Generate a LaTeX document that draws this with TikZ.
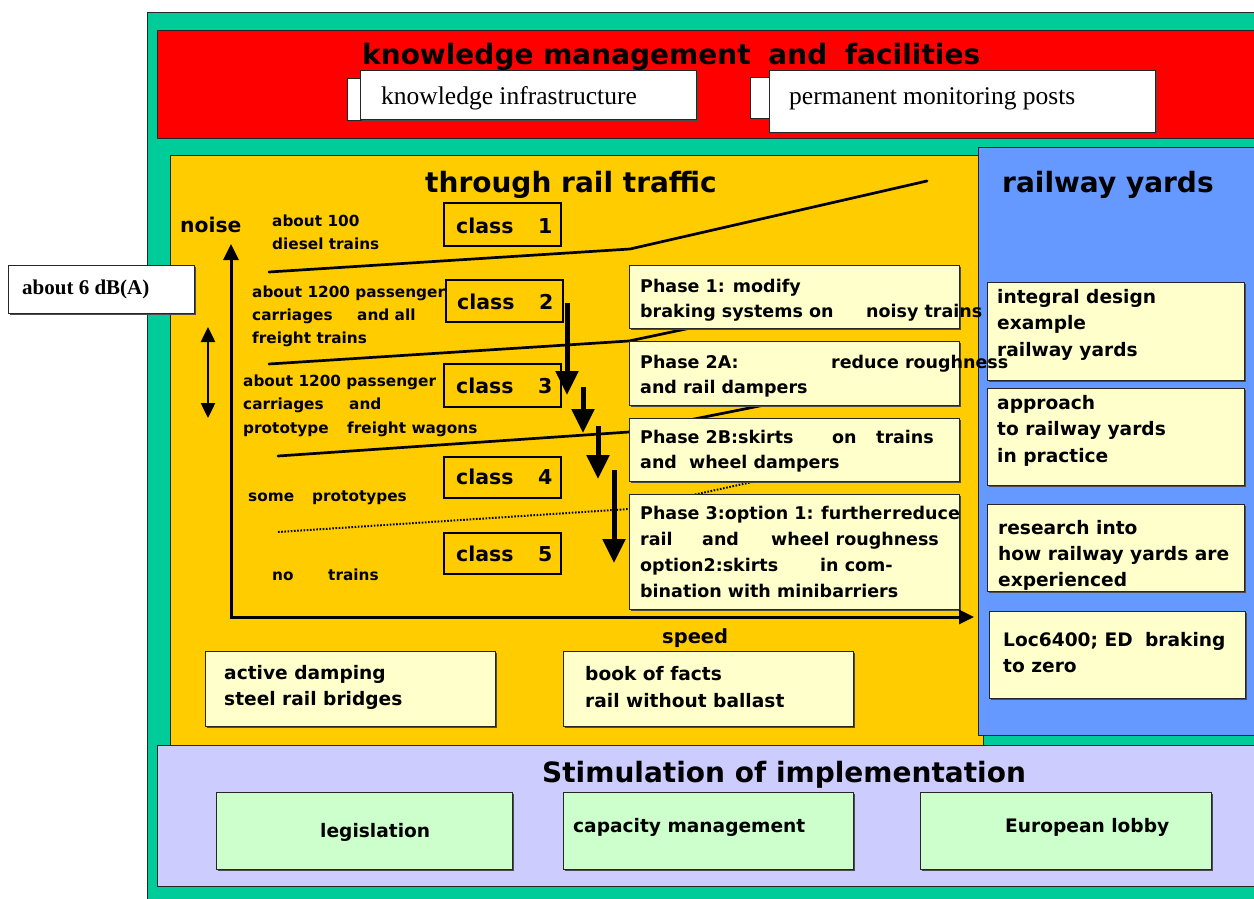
\documentclass[tikz,border=0pt]{standalone}
\usepackage{fontspec}
\setmainfont{DejaVu Sans}
\newfontfamily\serifface{Liberation Serif}
\usetikzlibrary{arrows.meta,fit,shadows}

\definecolor{cTeal}{HTML}{00CC99}
\definecolor{cRed}{HTML}{FF0000}
\definecolor{cYellow}{HTML}{FFCC00}
\definecolor{cBlue}{HTML}{6699FF}
\definecolor{cLav}{HTML}{CCCCFF}
\definecolor{cCream}{HTML}{FFFFCC}
\definecolor{cMint}{HTML}{CCFFCC}

% rows of left-aligned text: style, name, x, first baseline, line step, rows
\newcommand\textrows[6]{%
  \foreach \row [count=\k] in {#6}{%
    \node[#1, anchor=base west] (#2-\k) at (#3,{#4+(\k-1)*#5}) {\row};}}

\tikzset{
  region/.style={draw=black!85, line width=1pt, inner sep=0pt},
  card/.style={draw=black!85, line width=1pt, inner sep=0pt,
    drop shadow={shadow xshift=1.8pt, shadow yshift=-1.8pt, fill=black!70, opacity=1}},
  wcard/.style={card, fill=white},
  ycard/.style={card, fill=cCream},
  gcard/.style={card, fill=cMint},
  classbox/.style={draw=black, line width=1.8pt, inner sep=0pt},
  head/.style={inner sep=0pt, font=\fontsize{28}{32}\selectfont\bfseries},
  sertext/.style={inner sep=0pt, font=\fontsize{25.5}{28}\selectfont\serifface},
  small/.style={inner sep=0pt, font=\fontsize{15.3}{18}\selectfont\bfseries},
  phasetext/.style={inner sep=0pt, font=\fontsize{17.5}{20}\selectfont\bfseries},
  cardtext/.style={inner sep=0pt, font=\fontsize{18.6}{22}\selectfont\bfseries},
  classtext/.style={inner sep=0pt, font=\fontsize{20.5}{24}\selectfont\bfseries},
  limit/.style={line width=2.7pt, line cap=round},
  axis/.style={line width=3pt, {Triangle[width=15pt,length=16pt]}-{Triangle[width=14pt,length=15pt]}},
  span/.style={line width=2.5pt, {Triangle[width=14pt,length=15pt]}-{Triangle[width=14pt,length=15pt]}},
  phasearrow/.style={line width=5pt, -{Triangle[width=22pt,length=24pt]}},
}

\begin{document}
\begin{tikzpicture}[x=1pt,y=-1pt]
\useasboundingbox (0,0) rectangle (1254,899);
\clip (0,0) rectangle (1254,899);

% coloured regions
\node[region, fill=cTeal, fit={(147,13) (1262,905)}] (frame) {};
\node[region, fill=cRed, fit={(157,31) (1262,138)}] (kmf) {};
\node[region, fill=cYellow, fit={(170,155) (983,745)}] (through) {};
\node[region, fill=cBlue, fit={(978,147) (1262,735)}] (yards) {};
\node[region, fill=cLav, fit={(157,745) (1262,886)}] (stim) {};

% headings
\node[head, anchor=base west] (kmf-title) at (362,65) {knowledge management\hspace{8pt} and\hspace{8pt} facilities};
\node[head, anchor=base west] (through-title) at (425,192) {through rail traffic};
\node[head, anchor=base west] (yards-title) at (1002,192) {railway yards};
\node[head, anchor=base west] (stim-title) at (542,782) {Stimulation of implementation};

% knowledge boxes
\node[wcard, fit={(347,79) (671,120)}] (ki-back) {};
\node[wcard, fit={(360,71) (696,119)}] (ki) {};
\node[wcard, fit={(750,78) (1100,118)}] (pm-back) {};
\node[wcard, fit={(769,71) (1155,132)}] (pm) {};
\node[sertext, anchor=base west] (ki-text) at (381,105) {knowledge infrastructure};
\node[sertext, anchor=base west] (pm-text) at (789,105) {permanent monitoring posts};

% class limits
\coordinate (l1a) at (269,272); \coordinate (l1b) at (630,249); \coordinate (l1c) at (927,181);
\coordinate (l2a) at (269,364); \coordinate (l2b) at (629,341); \coordinate (l2c) at (880,288);
\coordinate (l3a) at (278,456); \coordinate (l3b) at (629,432); \coordinate (l3c) at (880,382);
\coordinate (l4a) at (278,532); \coordinate (l4b) at (629,509); \coordinate (l4c) at (880,454);
\draw[limit] (l1a) -- (l1b) -- (l1c);
\draw[limit] (l2a) -- (l2b) -- (l2c);
\draw[limit] (l3a) -- (l3b) -- (l3c);
\draw[line width=2pt, dash pattern=on 1.6pt off 1.6pt] (l4a) -- (l4b) -- (l4c);

% class boxes
\node[classbox, fit={(444,203) (561,246)}] (c1) {};
\node[classbox, fit={(446,280) (563,322)}] (c2) {};
\node[classbox, fit={(444,364) (561,407)}] (c3) {};
\node[classbox, fit={(444,457) (561,498)}] (c4) {};
\node[classbox, fit={(444,533) (561,574)}] (c5) {};

% phase boxes
\node[ycard, fit={(629,265) (959,328)}] (ph1) {};
\node[ycard, fit={(629,341) (959,405)}] (ph2a) {};
\node[ycard, fit={(629,418) (959,481)}] (ph2b) {};
\node[ycard, fit={(629,494) (959,609)}] (ph3) {};

% railway yard boxes
\node[ycard, fit={(987,282) (1244,380)}] (ry1) {};
\node[ycard, fit={(987,388) (1244,485)}] (ry2) {};
\node[ycard, fit={(987,504) (1244,591)}] (ry3) {};
\node[ycard, fit={(989,611) (1245,698)}] (ry4) {};

% lower boxes
\node[ycard, fit={(205,651) (495,726)}] (ad) {};
\node[ycard, fit={(563,651) (853,726)}] (bf) {};
\node[gcard, fit={(216,792) (512,869)}] (leg) {};
\node[gcard, fit={(563,792) (853,869)}] (cap) {};
\node[gcard, fit={(920,792) (1211,869)}] (eu) {};

% about 6 dB(A)
\node[wcard, fit={(8,265) (194,313)}] (db) {};
\node[inner sep=0pt, anchor=base west, font=\fontsize{21}{24}\selectfont\serifface\bfseries] (db-text) at (22,294) {about 6 dB(A)};

% class labels
\node[classtext, anchor=base west] (c1-text) at (456,233) {\makebox[82pt][l]{class}1};
\node[classtext, anchor=base west] (c2-text) at (457,309) {\makebox[82pt][l]{class}2};
\node[classtext, anchor=base west] (c3-text) at (456,393) {\makebox[82pt][l]{class}3};
\node[classtext, anchor=base west] (c4-text) at (456,484) {\makebox[82pt][l]{class}4};
\node[classtext, anchor=base west] (c5-text) at (456,561) {\makebox[82pt][l]{class}5};

% train groups
\node[classtext, anchor=base west, font=\fontsize{20.3}{24}\selectfont\bfseries] (noise) at (180,232) {noise};
\textrows{small}{g1}{272}{226}{23}{about 100, diesel trains}
\textrows{small}{g2}{252}{297}{23}{about 1200 passenger, \makebox[105pt][l]{carriages}and all, freight trains}
\textrows{small}{g3}{243}{386}{23.5}{about 1200 passenger, \makebox[106pt][l]{carriages}and, \makebox[104pt][l]{prototype}freight wagons}
\node[small, anchor=base west] (g4) at (248,501) {\makebox[64pt][l]{some}prototypes};
\node[small, anchor=base west] (g5) at (272,580) {\makebox[56pt][l]{no}trains};

% railway yard texts
\textrows{cardtext}{ry1t}{997}{303}{26.5}{integral design, example, railway yards}
\textrows{cardtext}{ry2t}{997}{409}{26.5}{approach, to railway yards, in practice}
\textrows{cardtext}{ry3t}{998}{534}{26}{research into, how railway yards are, experienced}
\textrows{cardtext}{ry4t}{1003}{646}{26}{Loc6400; ED\hspace{6pt} braking, to zero}

% phase texts
\textrows{phasetext}{ph1t}{640}{292}{25}{Phase 1: modify, \makebox[226pt][l]{braking systems on}noisy trains}
\textrows{phasetext}{ph2at}{640}{368}{25}{\makebox[191pt][l]{Phase 2A:}reduce roughness, and rail dampers}
\textrows{phasetext}{ph2bt}{640}{443}{25}{\makebox[192pt][l]{Phase 2B:skirts}\makebox[44pt][l]{on}trains, and\hspace{6pt} wheel dampers}
\textrows{phasetext}{ph3t}{640}{519}{26}{\makebox[181pt][l]{Phase 3:option 1:}\makebox[71pt][l]{further}reduce, \makebox[62pt][l]{rail}\makebox[69pt][l]{and}wheel roughness, \makebox[180pt][l]{option2:skirts}in com-, bination with minibarriers}

% lower texts
\node[classtext, anchor=base west, font=\fontsize{19.5}{23}\selectfont\bfseries] (speed) at (662,643) {speed};
\textrows{cardtext}{adt}{224}{679}{26.5}{active damping, steel rail bridges}
\textrows{cardtext}{bft}{585}{680}{27}{book of facts, rail without ballast}
\node[cardtext, anchor=base west] (leg-text) at (320,837) {legislation};
\node[cardtext, anchor=base west] (cap-text) at (573,832) {capacity management};
\node[cardtext, anchor=base west] (eu-text) at (1005,832) {European lobby};

% axes
\coordinate (ax-top) at (231,244);
\coordinate (ax-end) at (974,617);
\draw[axis] (ax-top) |- (ax-end);
\coordinate (sp-top) at (208,327);
\coordinate (sp-bot) at (208,418);
\draw[span] (sp-top) -- (sp-bot);

% phase steps
\coordinate (a1s) at (567,303); \coordinate (a1e) at (567,395);
\coordinate (a2s) at (583,387); \coordinate (a2e) at (583,433);
\coordinate (a3s) at (598,426); \coordinate (a3e) at (598,479);
\coordinate (a4s) at (614,470); \coordinate (a4e) at (614,563);
\draw[phasearrow] (a1s) -- (a1e);
\draw[phasearrow] (a2s) -- (a2e);
\draw[phasearrow] (a3s) -- (a3e);
\draw[phasearrow] (a4s) -- (a4e);
\end{tikzpicture}
\end{document}
